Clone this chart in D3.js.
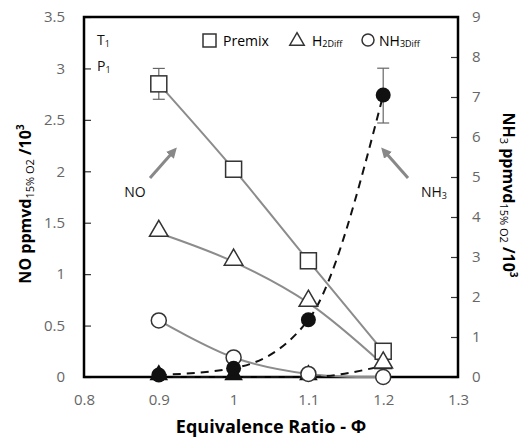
<!DOCTYPE html>
<html>
<head>
<meta charset="utf-8">
<script src="https://cdn.jsdelivr.net/npm/d3@7"></script>
<style>
  body { margin: 0; background: #fff; }
  svg text { font-family: "Open Sans", "Noto Sans", sans-serif; }
</style>
</head>
<body>
<div class="chart"></div>
<script>
"use strict";

// Data
const phi = [0.9, 1.0, 1.1, 1.2];
const noPremix = [2.85, 2.02, 1.13, 0.25];
const noPremixErr = [[2.7, 3.0], [1.95, 2.08], null, null];
const noH2Diff = [1.4, 1.12, 0.72, 0.12];
const noNH3Diff = [0.55, 0.19, 0.03, 0.0];
const nh3Circle = [0.05, 0.22, 1.43, 7.05];
const nh3CircleErr = [null, null, null, [6.35, 7.72]];
const nh3Triangle = [0.0, 0.0, 0.0, 0.28];
const xTicks = [0.8, 0.9, 1.0, 1.1, 1.2, 1.3];
const yTicks = [0, 0.5, 1, 1.5, 2, 2.5, 3, 3.5];
const y2Ticks = [0, 1, 2, 3, 4, 5, 6, 7, 8, 9];

const margin = {top: 17, right: 70, bottom: 62, left: 84};
const width = 528 - margin.left - margin.right;
const height = 439 - margin.top - margin.bottom;

const svg = d3.select('.chart')
  .append('svg')
  .attr('width', 528)
  .attr('height', 439)
  .append('g')
  .attr('transform', `translate(${margin.left}, ${margin.top})`);

const x = d3.scaleLinear().domain([0.8, 1.3]).range([0, width]);
const y = d3.scaleLinear().domain([0, 3.5]).range([height, 0]);
const y2 = d3.scaleLinear().domain([0, 9]).range([height, 0]);

const tickColor = '#666';

// axes (ticks point inward)
const yAxis = svg.append('g')
  .call(d3.axisLeft(y).tickValues(yTicks).tickSize(-7).tickPadding(19)
    .tickFormat(d => d3.format('')(d)));
const y2Axis = svg.append('g')
  .attr('transform', `translate(${width},0)`)
  .call(d3.axisRight(y2).tickValues(y2Ticks).tickSize(-7).tickPadding(14));
const xAxis = svg.append('g')
  .attr('transform', `translate(0,${height})`)
  .call(d3.axisBottom(x).tickValues(xTicks).tickSize(0).tickPadding(17)
    .tickFormat(d => d3.format('')(+d.toFixed(1))));

[yAxis, y2Axis, xAxis].forEach(a => {
  a.select('.domain').remove();
  a.selectAll('line').attr('stroke', '#333').attr('stroke-width', 1.2);
  a.selectAll('text').attr('fill', tickColor).style('font-size', '15px');
});

// frame
svg.append('rect')
  .attr('width', width).attr('height', height)
  .attr('fill', 'none').attr('stroke', '#000').attr('stroke-width', 2.5);

// lines
const lineL = vals => d3.line()
  .x((d, i) => x(phi[i])).y(d => y(d)).curve(d3.curveCatmullRom)(vals);
const lineR = vals => d3.line()
  .x((d, i) => x(phi[i])).y(d => y2(d)).curve(d3.curveMonotoneX)(vals);

[noPremix, noH2Diff, noNH3Diff].forEach(s => {
  svg.append('path').attr('d', lineL(s))
    .attr('fill', 'none').attr('stroke', '#8c8c8c').attr('stroke-width', 2);
});
[nh3Circle, nh3Triangle].forEach(s => {
  svg.append('path').attr('d', lineR(s))
    .attr('fill', 'none').attr('stroke', '#111').attr('stroke-width', 2)
    .attr('stroke-dasharray', '8,6');
});

// error bars
function errBars(errs, scale) {
  errs.forEach((e, i) => {
    if (!e) return;
    const cx = x(phi[i]);
    const g = svg.append('g').attr('stroke', '#666').attr('stroke-width', 1.2);
    g.append('line').attr('x1', cx).attr('x2', cx).attr('y1', scale(e[0])).attr('y2', scale(e[1]));
    e.forEach(v => g.append('line').attr('x1', cx - 6).attr('x2', cx + 6)
      .attr('y1', scale(v)).attr('y2', scale(v)));
  });
}
errBars(noPremixErr, y);
errBars(nh3CircleErr, y2);

// markers
const tri = d3.symbol().type(d3.symbolTriangle).size(150);
svg.selectAll('.nh3tri').data(nh3Triangle).enter().append('path')
  .attr('transform', (d, i) => `translate(${x(phi[i])},${y2(d) - 2})`)
  .attr('d', tri).attr('fill', '#111');
svg.selectAll('.premix').data(noPremix).enter().append('rect')
  .attr('x', (d, i) => x(phi[i]) - 8).attr('y', d => y(d) - 8)
  .attr('width', 16).attr('height', 16)
  .attr('fill', '#fff').attr('stroke', '#333').attr('stroke-width', 1.5);
svg.selectAll('.h2').data(noH2Diff).enter().append('path')
  .attr('transform', (d, i) => `translate(${x(phi[i])},${y(d) - 2})`)
  .attr('d', tri).attr('fill', '#fff').attr('stroke', '#333').attr('stroke-width', 1.5);
svg.selectAll('.nh3diff').data(noNH3Diff).enter().append('circle')
  .attr('cx', (d, i) => x(phi[i])).attr('cy', d => y(d)).attr('r', 7.5)
  .attr('fill', '#fff').attr('stroke', '#333').attr('stroke-width', 1.5);
svg.selectAll('.nh3circ').data(nh3Circle).enter().append('circle')
  .attr('cx', (d, i) => x(phi[i])).attr('cy', d => y2(d)).attr('r', 7.5)
  .attr('fill', '#111');

// arrows
svg.append('defs').append('marker')
  .attr('id', 'ah').attr('viewBox', '0 0 10 10').attr('refX', 3).attr('refY', 5)
  .attr('markerWidth', 3.5).attr('markerHeight', 3.5).attr('orient', 'auto')
  .append('path').attr('d', 'M0,0 L10,5 L0,10 z').attr('fill', '#888');
[[[150, 178], [172, 153]], [[408, 178], [386, 153]]].forEach(a => {
  svg.append('line')
    .attr('x1', a[0][0] - margin.left).attr('y1', a[0][1] - margin.top)
    .attr('x2', a[1][0] - margin.left).attr('y2', a[1][1] - margin.top)
    .attr('stroke', '#888').attr('stroke-width', 3).attr('marker-end', 'url(#ah)');
});

// annotation texts
const ann = svg.append('g').style('font-size', '14px').attr('fill', '#111');
ann.append('text').attr('x', 135 - margin.left).attr('y', 197 - margin.top)
  .attr('text-anchor', 'middle').text('NO');
const nh3t = ann.append('text').attr('x', 434 - margin.left).attr('y', 197 - margin.top)
  .attr('text-anchor', 'middle');
nh3t.append('tspan').text('NH');
nh3t.append('tspan').style('font-size', '9px').attr('dy', 2).text('3');
const t1 = ann.append('text').attr('x', 97 - margin.left).attr('y', 45 - margin.top);
t1.append('tspan').text('T');
t1.append('tspan').style('font-size', '9px').attr('dy', 2).text('1');
const p1 = ann.append('text').attr('x', 97 - margin.left).attr('y', 71 - margin.top);
p1.append('tspan').text('P');
p1.append('tspan').style('font-size', '9px').attr('dy', 2).text('1');

// legend
const leg = svg.append('g').attr('transform', `translate(0,${41 - margin.top})`);
leg.append('rect').attr('x', 203 - margin.left).attr('y', -7).attr('width', 13).attr('height', 13)
  .attr('fill', '#fff').attr('stroke', '#333').attr('stroke-width', 1.5);
leg.append('text').attr('x', 223 - margin.left).attr('y', 5).style('font-size', '14px').text('Premix');
leg.append('path').attr('transform', `translate(${297 - margin.left},0)`)
  .attr('d', d3.symbol().type(d3.symbolTriangle).size(90))
  .attr('fill', '#fff').attr('stroke', '#333').attr('stroke-width', 1.5);
const lh2 = leg.append('text').attr('x', 312 - margin.left).attr('y', 5).style('font-size', '14px');
lh2.append('tspan').text('H');
lh2.append('tspan').style('font-size', '9px').attr('dy', 1).text('2Diff');
leg.append('circle').attr('cx', 368 - margin.left).attr('cy', -1).attr('r', 6)
  .attr('fill', '#fff').attr('stroke', '#333').attr('stroke-width', 1.5);
const lnh = leg.append('text').attr('x', 379 - margin.left).attr('y', 5).style('font-size', '14px');
lnh.append('tspan').text('NH');
lnh.append('tspan').style('font-size', '9px').attr('dy', 1).text('3Diff');

// axis titles
function title(sel, parts) {
  parts.forEach(p => {
    const ts = sel.append('tspan').text(p.t);
    if (p.sub) ts.style('font-size', '11px').style('font-weight', 'normal').attr('dy', p.dy);
    if (p.sup) ts.style('font-size', '10px').attr('dy', p.dy);
    if (p.base) ts.attr('dy', p.dy);
  });
}
const yl = svg.append('text')
  .attr('transform', `translate(${31 - margin.left},${204 - margin.top}) rotate(-90)`)
  .attr('text-anchor', 'middle').style('font-size', '16px').style('font-weight', 'bold');
title(yl, [{t: 'NO ppmvd'}, {t: '15% O2', sub: true, dy: 3}, {t: ' /10', base: true, dy: -3}, {t: '3', sup: true, dy: -7}]);

const y2l = svg.append('text')
  .attr('transform', `translate(${503 - margin.left},${195 - margin.top}) rotate(90)`)
  .attr('text-anchor', 'middle').style('font-size', '16px').style('font-weight', 'bold');
title(y2l, [{t: 'NH'}, {t: '3', sub: true, dy: 3}, {t: ' ppmvd', base: true, dy: -3}, {t: '15% O2', sub: true, dy: 3}, {t: ' /10', base: true, dy: -3}, {t: '3', sup: true, dy: -7}]);

svg.append('text')
  .attr('x', width / 2).attr('y', 433 - margin.top)
  .attr('text-anchor', 'middle').style('font-size', '18px').style('font-weight', 'bold')
  .text('Equivalence Ratio - Φ');
</script>
</body>
</html>
